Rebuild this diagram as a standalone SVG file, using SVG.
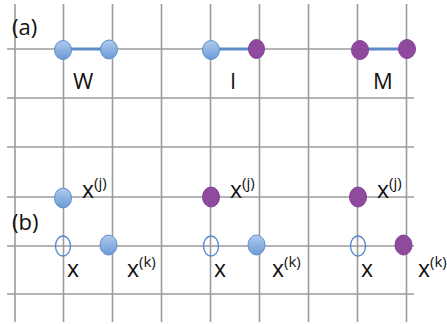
<svg xmlns="http://www.w3.org/2000/svg" width="447" height="324" viewBox="0 0 447 324">
<defs>
<linearGradient id="gb" x1="0" y1="0" x2="0" y2="1">
<stop offset="0" stop-color="#b0cbec"/>
<stop offset="1" stop-color="#6b9ad6"/>
</linearGradient>
<style>
.g{stroke:#9c9c9c;stroke-width:1.6;fill:none}
.b{fill:url(#gb);stroke:#5f8dcc;stroke-width:1}
.p{fill:#8f4a9d;stroke:#84419a;stroke-width:1}
.h{fill:none;stroke:#4f86cc;stroke-width:1.3}
.c{stroke:#5d8bc8;stroke-width:3.2;fill:none}
text{font-family:"Open Sans","Liberation Sans",sans-serif;fill:#111}
.l{font-size:22px}
.x{font-size:23px}
.s{font-size:15px}
</style>
</defs>
<rect width="447" height="324" fill="#fff"/>
<g id="grid">
<path class="g" d="M7 49H414M7 98H414M7 147H414M7 197H414M7 246H414M7 294H414"/>
<path class="g" d="M15 4V322M63.5 4V322M112.5 4V322M161.5 4V322M210.5 4V322M259.5 4V322M308.5 4V322M357.5 4V322M406.5 4V322"/>
</g>
<g id="connectors">
<line class="c" x1="63" y1="49" x2="112" y2="49"/>
<line class="c" x1="211" y1="49" x2="259" y2="49"/>
<line class="c" x1="358" y1="49" x2="406" y2="49"/>
</g>
<g id="W">
<ellipse class="b" cx="63" cy="50" rx="8.5" ry="9.5"/>
<ellipse class="b" cx="109" cy="49.5" rx="8.5" ry="9.5"/>
<text class="l" x="73" y="89">W</text>
</g>
<g id="I">
<ellipse class="b" cx="211" cy="50" rx="8.5" ry="9.5"/>
<ellipse class="p" cx="256.5" cy="49" rx="8" ry="9.5"/>
<text class="l" x="230" y="89">I</text>
</g>
<g id="M">
<ellipse class="p" cx="360" cy="50" rx="8.5" ry="9.5"/>
<ellipse class="p" cx="407" cy="49" rx="8.5" ry="9.5"/>
<text class="l" x="373" y="89">M</text>
</g>
<text class="l" x="12" y="35">(a)</text>
<text class="l" x="12" y="230">(b)</text>
<g id="b1">
<ellipse class="b" cx="63" cy="198" rx="8.5" ry="10"/>
<ellipse class="h" cx="63" cy="246" rx="7.5" ry="10"/>
<ellipse class="b" cx="108.5" cy="245" rx="8.5" ry="10"/>
<text class="x" x="82" y="198">x<tspan class="s" dy="-10">(j)</tspan></text>
<text class="x" x="67" y="277">x</text>
<text class="x" x="127" y="277">x<tspan class="s" dy="-10">(k)</tspan></text>
</g>
<g id="b2">
<ellipse class="p" cx="211" cy="197" rx="8.5" ry="10"/>
<ellipse class="h" cx="211" cy="246" rx="7.5" ry="10"/>
<ellipse class="b" cx="256.5" cy="245" rx="8.5" ry="10"/>
<text class="x" x="230" y="198">x<tspan class="s" dy="-10">(j)</tspan></text>
<text class="x" x="214" y="277">x</text>
<text class="x" x="272" y="277">x<tspan class="s" dy="-10">(k)</tspan></text>
</g>
<g id="b3">
<ellipse class="p" cx="358" cy="197" rx="8.5" ry="10"/>
<ellipse class="h" cx="358" cy="246" rx="7.5" ry="10"/>
<ellipse class="p" cx="403.5" cy="245" rx="8.5" ry="10"/>
<text class="x" x="377" y="198">x<tspan class="s" dy="-10">(j)</tspan></text>
<text class="x" x="361" y="277">x</text>
<text class="x" x="418" y="277">x<tspan class="s" dy="-10">(k)</tspan></text>
</g>
</svg>
